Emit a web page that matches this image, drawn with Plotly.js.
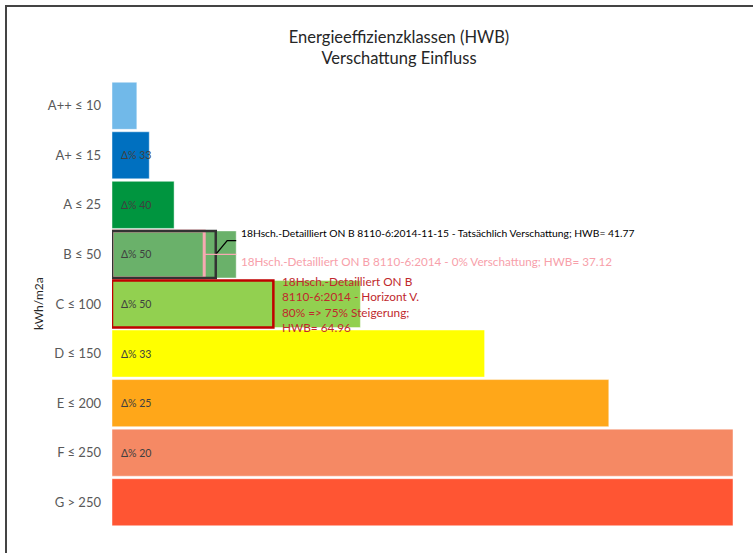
<!DOCTYPE html>
<html>
<head>
<meta charset="utf-8">
<script src="https://cdn.plot.ly/plotly-3.0.1.min.js"></script>
<style>
  html, body { margin: 0; padding: 0; background: #fff; }
  #wrap { position: relative; width: 753px; height: 553px; overflow: hidden; }
  #chart { position: absolute; left: 0; top: 0; width: 753px; height: 553px; }
  #frame { position: absolute; left: 5px; top: 5px; width: 800px; height: 600px;
           border-left: 2px solid #444; border-top: 2px solid #444; pointer-events: none; }
</style>
</head>
<body>
<div id="wrap">
  <div id="chart"></div>
  <div id="frame"></div>
</div>
<script>
// ---- data ----
const categories = ['A++ ≤ 10', 'A+ ≤ 15', 'A ≤ 25', 'B ≤ 50', 'C ≤ 100', 'D ≤ 150', 'E ≤ 200', 'F ≤ 250', 'G > 250'];
const classLimits = [10, 15, 25, 50, 100, 150, 200, 250, 250];
const deltaLabels = ['', 'Δ% 33', 'Δ% 40', 'Δ% 50', 'Δ% 50', 'Δ% 33', 'Δ% 25', 'Δ% 20', ''];
const classColors = ['#71b9e9', '#0070c0', '#00953f', '#6ab16a', '#92d050', '#ffff00', '#ffa719', '#f58964', '#ff5533'];

const variantCategories = ['B ≤ 50', 'B ≤ 50', 'C ≤ 100'];
const variantHWB = [37.12, 41.77, 64.96];
const variantLabels = [
  '18Hsch.-Detailliert ON B 8110-6:2014 - 0% Verschattung; HWB= 37.12',
  '18Hsch.-Detailliert ON B 8110-6:2014-11-15 - Tatsächlich Verschattung; HWB= 41.77',
  '18Hsch.-Detailliert ON B<br>8110-6:2014 - Horizont V.<br>80% => 75% Steigerung;<br>HWB= 64.96'
];
const variantColors = ['#f7a9b2', '#333333', '#c00000'];

const FONT = 'Lato, "Open Sans", "Noto Sans", sans-serif';

// ---- traces ----
const traces = [{
  type: 'bar', orientation: 'h',
  y: categories, x: classLimits,
  marker: { color: classColors, line: { color: 'rgba(255,255,255,0.45)', width: 1 } },
  hoverinfo: 'skip', showlegend: false
}];
for (let i = 0; i < variantHWB.length; i++) {
  traces.push({
    type: 'bar', orientation: 'h',
    y: [variantCategories[i]], x: [variantHWB[i]],
    marker: { color: 'rgba(0,0,0,0)', line: { color: variantColors[i], width: i === 0 ? 3 : 2.5 } },
    hoverinfo: 'skip', showlegend: false
  });
}

// ---- annotations ----
const annotations = [];
categories.forEach((c, i) => {
  if (deltaLabels[i]) {
    annotations.push({
      x: 0, y: c, xref: 'x', yref: 'y', text: deltaLabels[i], showarrow: false,
      xanchor: 'left', yanchor: 'middle', xshift: 7,
      font: { family: FONT, size: 10.5, color: '#404040' }
    });
  }
});
const bIdx = categories.indexOf('B ≤ 50');
const cIdx = categories.indexOf('C ≤ 100');
const bLimit = classLimits[bIdx];
// pink label
annotations.push({
  x: bLimit, y: bIdx + 0.13, xref: 'x', yref: 'y', text: variantLabels[0], showarrow: false,
  xanchor: 'left', yanchor: 'middle', xshift: 3,
  font: { family: FONT, size: 11.7, color: '#f7a0aa' }
});
// black label
annotations.push({
  x: bLimit, y: bIdx - 0.44, xref: 'x', yref: 'y', text: variantLabels[1], showarrow: false,
  xanchor: 'left', yanchor: 'middle', xshift: 3,
  font: { family: FONT, size: 10.3, color: '#000000' }
});
// red label
annotations.push({
  x: variantHWB[2], y: cIdx, xref: 'x', yref: 'y', text: variantLabels[2], showarrow: false,
  xanchor: 'left', yanchor: 'middle', xshift: 7, align: 'left',
  font: { family: FONT, size: 11.8, color: '#c0282d' }
});
// y axis title
annotations.push({
  x: -0.119, y: 0.5, xref: 'paper', yref: 'paper', text: 'kWh/m2a', showarrow: false,
  textangle: -90, xanchor: 'center', yanchor: 'middle',
  font: { family: FONT, size: 12, color: '#262626' }
});

// ---- leader lines ----
const shapes = [
  { type: 'path', xref: 'x', yref: 'y',
    path: `M ${variantHWB[1]} ${bIdx} L ${variantHWB[1] + 4.6} ${bIdx - 0.28} L ${bLimit} ${bIdx - 0.28}`,
    line: { color: '#000000', width: 1.3 } },
  { type: 'line', xref: 'x', yref: 'y',
    x0: variantHWB[0], x1: bLimit, y0: bIdx, y1: bIdx,
    line: { color: '#f7a9b2', width: 1.3 } }
];

const layout = {
  width: 753, height: 553,
  margin: { l: 112, r: 20, t: 81, b: 26 },
  paper_bgcolor: '#ffffff', plot_bgcolor: '#ffffff',
  barmode: 'overlay', bargap: 0.05,
  title: {
    text: 'Energieeffizienzklassen (HWB)<br>Verschattung Einfluss',
    font: { family: FONT, size: 16.5, color: '#262626' },
    xref: 'container', x: 399 / 753, xanchor: 'center',
    yref: 'container', y: 1 - 43 / 553, yanchor: 'middle'
  },
  xaxis: { range: [0, 250], showgrid: false, zeroline: false, showticklabels: false, showline: false, fixedrange: true },
  yaxis: {
    type: 'category', categoryorder: 'array', categoryarray: categories,
    range: [categories.length - 0.5, -0.5],
    showgrid: false, zeroline: false, showline: false, ticks: '',
    ticklabelstandoff: 10,
    tickfont: { family: FONT, size: 13, color: '#595959' }
  },
  annotations: annotations,
  shapes: shapes,
  showlegend: false
};

Plotly.newPlot('chart', traces, layout, { staticPlot: true, displayModeBar: false });
</script>
</body>
</html>
